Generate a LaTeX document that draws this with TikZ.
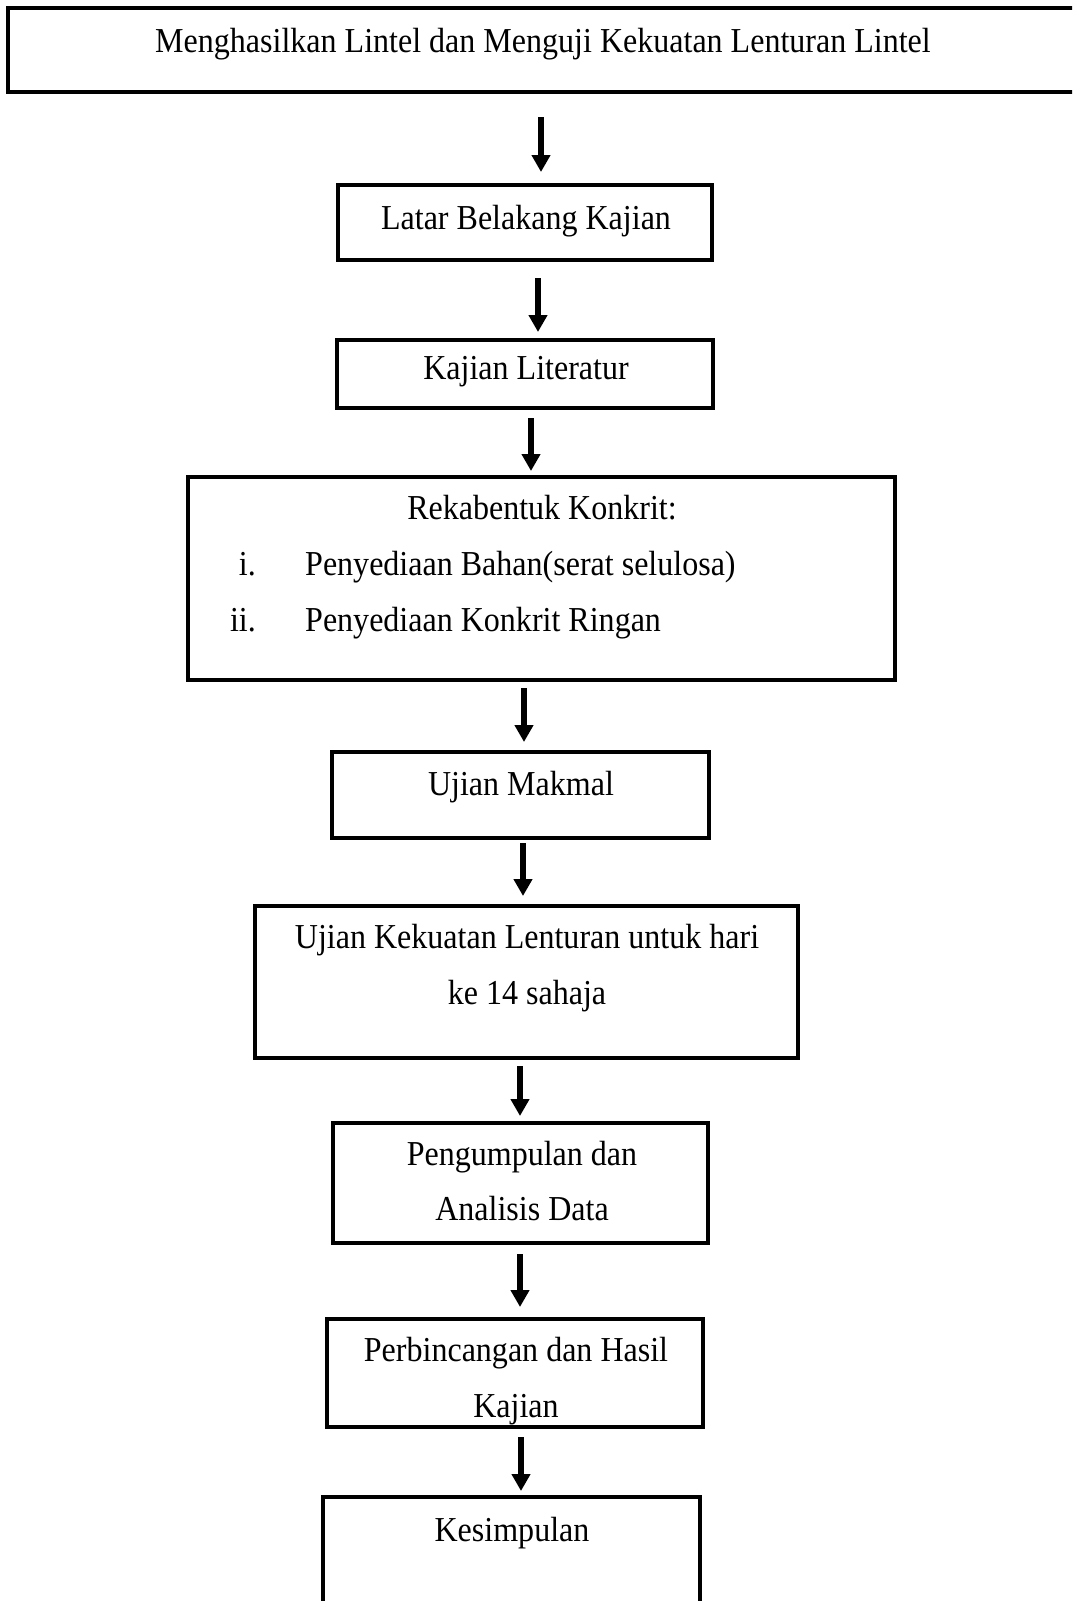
\documentclass[tikz,border=0pt]{standalone}
\usepackage{fontspec}
\setmainfont{Liberation Serif}[FakeStretch=0.915]
\usetikzlibrary{arrows.meta}

\tikzset{
  box/.style={draw, line width=4bp, inner sep=0pt},
  txt/.style={font=\fontsize{35bp}{56bp}\selectfont, inner sep=0pt, anchor=base, align=center},
  arr/.style={line width=5.5bp, -{Triangle[width=18bp,length=17bp]}},
}

\begin{document}
\begin{tikzpicture}[x=1bp, y=-1bp]
    \useasboundingbox (0,0) rectangle (1072,1601);
    \clip (0,0) rectangle (1072,1601);

    % Boxes
    \node [box, minimum width=1082bp, minimum height=84bp] (b1) at (549,50) {};
    \node [box, minimum width=374bp, minimum height=75bp] (b2) at (525,222.5) {};
    \node [box, minimum width=376bp, minimum height=68bp] (b3) at (525,374) {};
    \node [box, minimum width=707bp, minimum height=203bp] (b4) at (541.5,578.5) {};
    \node [box, minimum width=377bp, minimum height=86bp] (b5) at (520.5,795) {};
    \node [box, minimum width=543bp, minimum height=152bp] (b6) at (526.5,982) {};
    \node [box, minimum width=375bp, minimum height=120bp] (b7) at (520.5,1183) {};
    \node [box, minimum width=376bp, minimum height=108bp] (b8) at (515,1373) {};
    \node [box, minimum width=377bp, minimum height=153bp] (b9) at (511.5,1573.5) {};

    % Texts (two-line nodes sit on their last baseline)
    \node [txt] (t1) at (543,53) {Menghasilkan Lintel dan Menguji Kekuatan Lenturan Lintel};
    \node [txt] (t2) at (526,229) {Latar Belakang Kajian};
    \node [txt] (t3) at (526,379) {Kajian Literatur};
    \node [txt] (t4) at (542,519) {Rekabentuk Konkrit:};
    \node [txt, anchor=base east] (n1) at (256,575) {i.};
    \node [txt, anchor=base west] (l1) at (305,575) {Penyediaan Bahan(serat selulosa)};
    \node [txt, anchor=base east] (n2) at (256,631) {ii.};
    \node [txt, anchor=base west] (l2) at (305,631) {Penyediaan Konkrit Ringan};
    \node [txt] (t5) at (521,795) {Ujian Makmal};
    \node [txt] (t6) at (527,1004) {Ujian Kekuatan Lenturan untuk hari\\ke 14 sahaja};
    \node [txt] (t7) at (522,1220) {Pengumpulan dan\\[-1bp]Analisis Data};
    \node [txt] (t8) at (516,1417) {Perbincangan dan Hasil\\Kajian};
    \node [txt] (t9) at (512,1541) {Kesimpulan};

    % Arrows
    \foreach \f/\t/\x/\s/\e in {b1/b2/541/23/11, b2/b3/538/16/6, b3/b4/531/8/4, b4/b5/524/6/8,
                                b5/b6/523/3/8, b6/b7/520/6/5, b7/b8/520/9/10, b8/b9/521/8/4} {
        \coordinate (ax) at (\x,0);
        \draw [arr, shorten <=\s bp, shorten >=\e bp] (\f.south -| ax) -- (\t.north -| ax);
    }
\end{tikzpicture}
\end{document}
